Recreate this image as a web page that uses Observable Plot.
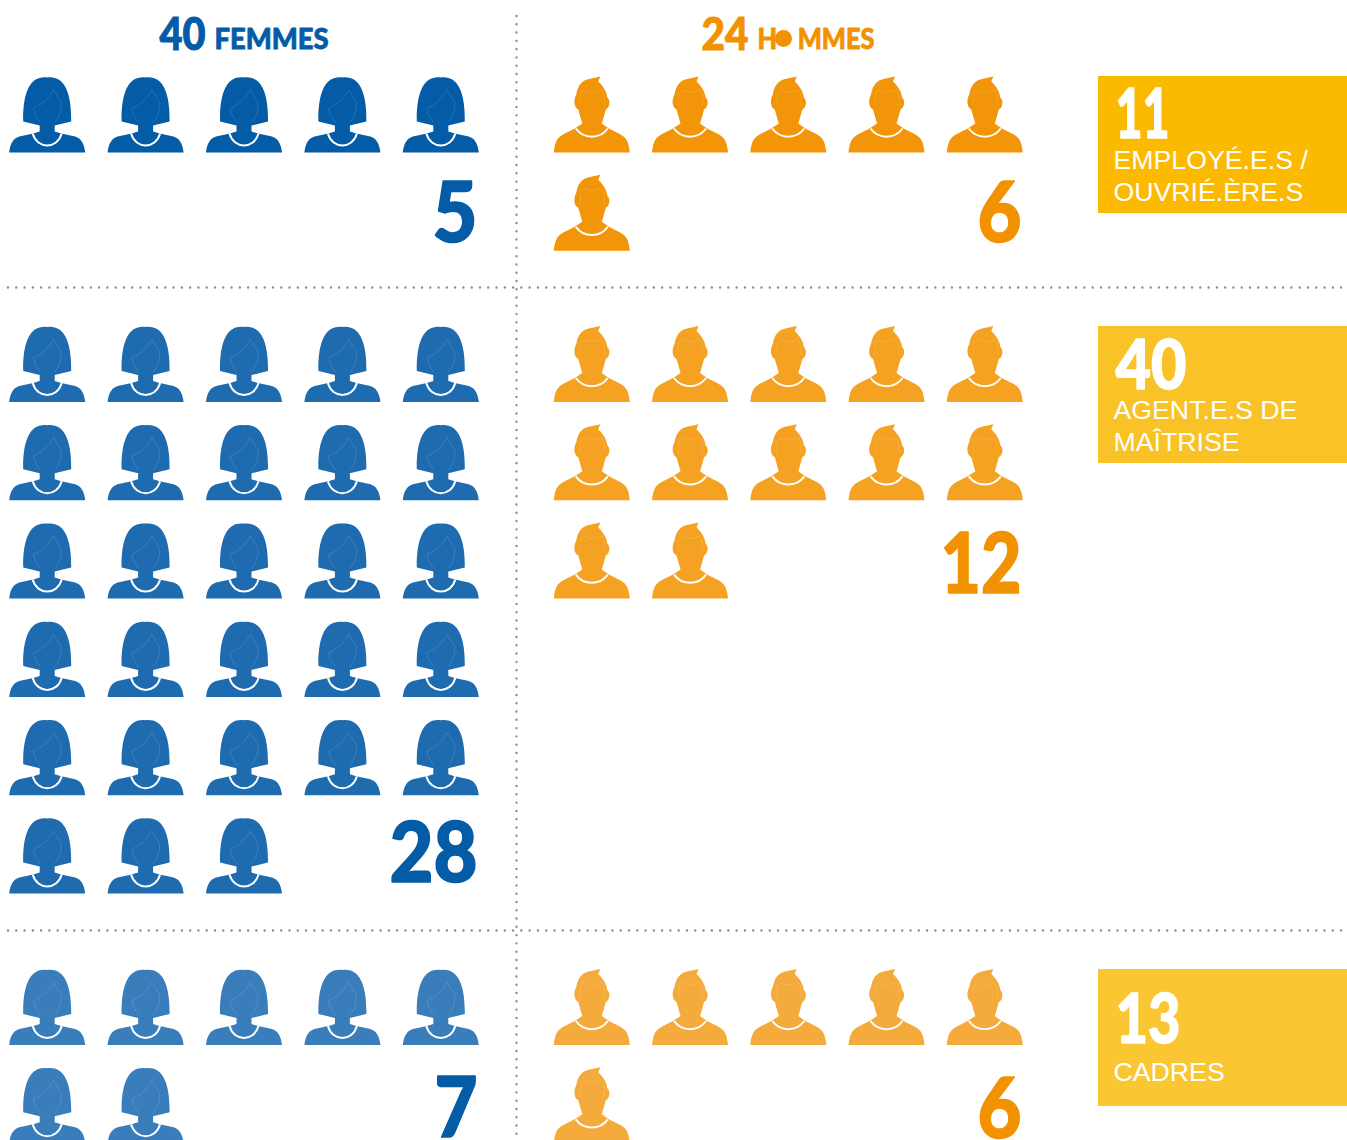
<!DOCTYPE html>
<html lang="fr">
<head>
<meta charset="utf-8">
<script src="https://cdn.jsdelivr.net/npm/d3@7"></script>
<script src="https://cdn.jsdelivr.net/npm/@observablehq/plot@0.6"></script>
<style>
html,body{margin:0;padding:0;background:#fff;overflow:hidden}
svg{display:block}
</style>
</head>
<body>
<div id="chart"></div>
<script>
// ---- values
const categories = ["EMPLOYÉ.E.S /\nOUVRIÉ.ÈRE.S", "AGENT.E.S DE\nMAÎTRISE", "CADRES"];
const femmes = [5, 28, 7];
const hommes = [6, 12, 6];
const totals = [11, 40, 13];
const headers = ["FEMMES", "HOMMES"];

// ---- layout and styles
const W = 1347, H = 1140, COLS = 5, PITCH_Y = 98.3;
const rowBase = [152, 401.5, 1044.5];
const blues = ["#045ba6", "#1f6bb0", "#3a7dbb"];
const oranges = ["#f39508", "#f5a223", "#f5aa3c"];
const yellows = ["#fbba00", "#f9c226", "#fac632"];
const BLUE = "#045ba6", ORANGE = "#f39200";
const boxTop = [76, 326, 969], boxH = 137;
const boxNumBase = [137, 388, 1042], boxNumW = [54, 71, 65];
const labelBase = [168, 418, 1080.5];
const countBaseF = [241, 881, 1136], countBaseM = [241, 592, 1137];
const countW = {5: 45, 28: 88, 7: 43, 6: 44, 12: 81};
const FONT = "Lato, 'Noto Sans', sans-serif", LABEL = "'Liberation Sans', Arial, sans-serif";
const LABEL_SIZE = 26.7, LABEL_LEADING = 1.2;

// ---- icon shapes (local units, origin bottom centre)
const shape = cmds => ({draw(c) { cmds(c); }});
const womanBody = shape(c => {
  c.moveTo(-24, -31);
  c.bezierCurveTo(-24.5, -64, -15, -77, 0, -75);
  c.bezierCurveTo(15, -77, 24.5, -64, 24, -31);
  c.lineTo(7.5, -27); c.lineTo(7.5, -21); c.lineTo(14, -19);
  c.lineTo(28, -16);
  c.bezierCurveTo(34, -14, 37, -9, 38, 0);
  c.lineTo(-38, 0);
  c.bezierCurveTo(-37, -9, -34, -14, -28, -16);
  c.lineTo(-14, -19);
  c.lineTo(-7.5, -21); c.lineTo(-7.5, -27); c.closePath();
});
const womanCollar = shape(c => { c.moveTo(-14.5, -19); c.bezierCurveTo(-10, -3, 10, -3, 14.5, -19); });
const womanFace = shape(c => {
  c.moveTo(-7, -30); c.bezierCurveTo(-10, -34, -13, -38, -13.7, -44.3);
  c.bezierCurveTo(-5, -48, 1, -53, 6.3, -62.7);
  c.lineTo(14, -50); c.bezierCurveTo(14.5, -42, 12, -35, 7.3, -30);
});
const manBody = shape(c => {
  c.moveTo(-38, 0); c.bezierCurveTo(-37, -10, -35, -15, -28, -18.5);
  c.lineTo(-17, -24); c.lineTo(-9.5, -29); c.lineTo(-11, -34); c.lineTo(-13.5, -43);
  c.bezierCurveTo(-18, -45, -18.5, -53, -15.5, -58);
  c.bezierCurveTo(-14, -67, -10, -72, -3, -73.5);
  c.lineTo(8.5, -76); c.lineTo(6.5, -71);
  c.bezierCurveTo(12, -66, 15, -60, 15.5, -55);
  c.bezierCurveTo(19, -52, 18, -45, 14, -43);
  c.lineTo(11.5, -34); c.lineTo(10, -29); c.lineTo(17, -24); c.lineTo(28, -18.5);
  c.bezierCurveTo(35, -15, 37, -10, 38, 0); c.closePath();
});
const manCollar = shape(c => { c.moveTo(-16, -24); c.bezierCurveTo(-8, -13, 8, -13, 16, -24); });
const manFace = shape(c => {
  c.moveTo(-11.5, -47); c.lineTo(-11.5, -56);
  c.bezierCurveTo(-11, -61, -8, -63, -6, -62);
  c.bezierCurveTo(-3, -59.5, 3, -59.5, 7, -62);
  c.bezierCurveTo(10, -63, 12.5, -60, 12.5, -56); c.lineTo(12.5, -47);
});

// ---- waffle positions derived from the counts
const grid = (counts, x0, pitchX, colors) => counts.flatMap((n, g) =>
  d3.range(n).map(i => ({
    x: x0 + pitchX * (i % COLS),
    y: rowBase[g] + PITCH_Y * Math.floor(i / COLS),
    color: colors[g]
  })));
const women = grid(femmes, 46.7, 98.4, blues);
const men = grid(hommes, 591.3, 98.25, oranges);

const fit = (w, hideO) => function (index, scales, values, dims, ctx, next) {
  const g = next(index, scales, values, dims, ctx);
  g.querySelectorAll("text").forEach(t => {
    t.setAttribute("textLength", w);
    t.setAttribute("lengthAdjust", "spacingAndGlyphs");
    if (hideO) {
      const s = t.textContent, k = s.indexOf("O");
      t.textContent = s.slice(0, k);
      const o = document.createElementNS("http://www.w3.org/2000/svg", "tspan");
      o.setAttribute("fill", "none"); o.setAttribute("stroke", "none");
      o.textContent = "O";
      t.append(o, s.slice(k + 1));
    }
  });
  return g;
};
const label = (text, x, base, size, fill, w, anchor = "start", bold = 1.6, hideO = false) =>
  Plot.text([text], {
    x: () => x, y: () => base, text: d => d,
    fontFamily: FONT, fontWeight: 900, fontSize: size, fill, textAnchor: anchor,
    stroke: fill, strokeWidth: bold, lineAnchor: "bottom", render: fit(w, hideO)
  });
const dots = {strokeDasharray: "0.01 8.27", strokeLinecap: "round", strokeWidth: 2.4, stroke: "#94888a"};

const chart = Plot.plot({
  width: W, height: H, margin: 0,
  x: {domain: [0, W], range: [0, W], axis: null},
  y: {domain: [0, H], range: [0, H], axis: null},
  style: {background: "#fff"},
  marks: [
    Plot.ruleY([287, 930], {x1: 8, x2: 1343, ...dots}),
    Plot.ruleX([516], {y1: 16, y2: 1136, ...dots}),

    Plot.dot(women, {x: "x", y: "y", symbol: womanBody, fill: "color", stroke: "none"}),
    Plot.dot(women, {x: "x", y: "y", symbol: womanCollar, fill: "none", stroke: "#fff", strokeWidth: 2}),
    Plot.dot(women, {x: "x", y: "y", symbol: womanFace, fill: "none", stroke: "#fff", strokeOpacity: 0.25, strokeWidth: 0.5}),
    Plot.dot(men, {x: "x", y: "y", symbol: manBody, fill: "color", stroke: "none"}),
    Plot.dot(men, {x: "x", y: "y", symbol: manCollar, fill: "none", stroke: "#fff", strokeWidth: 2}),
    Plot.dot(men, {x: "x", y: "y", symbol: manFace, fill: "none", stroke: "#fff", strokeOpacity: 0.25, strokeWidth: 0.5}),

    label(String(d3.sum(femmes)), 159, 49, 46, BLUE, 46, "start", 1),
    label(headers[0], 214, 48, 29, BLUE, 114, "start", 0.8),
    label(String(d3.sum(hommes)), 701, 49, 46, ORANGE, 47, "start", 1),
    label(headers[1], 757, 48, 29, ORANGE, 117, "start", 0.8, true),
    Plot.dot([0], {x: () => 783, y: () => 38, r: 8.5, fill: ORANGE, stroke: "none"}),

    ...femmes.map((n, i) => label(String(n), 477, countBaseF[i], 84, BLUE, countW[n], "end")),
    ...hommes.map((n, i) => label(String(n), 1021, countBaseM[i], 84, ORANGE, countW[n], "end")),

    Plot.rect(totals, {
      x1: () => 1098, x2: () => W,
      y1: (d, i) => boxTop[i], y2: (d, i) => boxTop[i] + boxH,
      fill: (d, i) => yellows[i]
    }),
    ...totals.map((n, i) => label(String(n), 1115, boxNumBase[i], 68, "#fff", boxNumW[i], "start", 1.4)),
    ...categories.map((c, i) => Plot.text([c], {
      x: () => 1113,
      y: () => labelBase[i],
      text: d => d, lineAnchor: "bottom",
      dy: c.includes("\n") ? LABEL_LEADING * LABEL_SIZE : 0,
      fontFamily: LABEL, fontSize: LABEL_SIZE, fill: "#fff", textAnchor: "start", lineHeight: LABEL_LEADING
    }))
  ]
});
document.getElementById("chart").appendChild(chart);
</script>
</body>
</html>
